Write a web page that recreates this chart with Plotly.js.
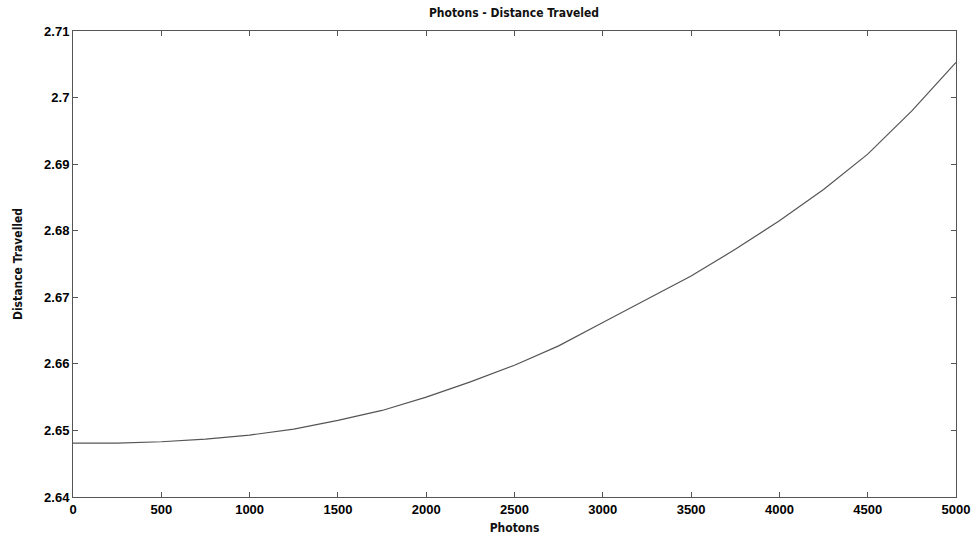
<!DOCTYPE html>
<html>
<head>
<meta charset="utf-8">
<script src="https://cdn.plot.ly/plotly-3.0.1.min.js"></script>
<style>html,body{margin:0;padding:0;background:#fff;}#chart{width:979px;height:542px;}</style>
</head>
<body>
<div id="chart"></div>
<script>
const photons = [0,250,500,750,1000,1250,1500,1750,2000,2250,2500,2750,3000,3250,3500,3750,4000,4250,4500,4750,5000];
const distance = [2.6481,2.6481,2.6483,2.6487,2.6493,2.6502,2.6515,2.6530,2.6550,2.6573,2.6598,2.6627,2.6662,2.6697,2.6732,2.6772,2.6815,2.6862,2.6915,2.6980,2.7053];
const xTicks = [0,500,1000,1500,2000,2500,3000,3500,4000,4500,5000];
const yTicks = [2.64,2.65,2.66,2.67,2.68,2.69,2.7,2.71];
const yTickText = ["2.64","2.65","2.66","2.67","2.68","2.69","2.7","2.71"];

const tickFont = {family:'"Liberation Sans", Arial, sans-serif', size:13, color:'#000', weight:'bold'};
const titleFont = {family:'"DejaVu Sans Condensed", "Liberation Sans Narrow", sans-serif', size:12, color:'#111', weight:'bold'};

Plotly.newPlot('chart', [{
  x: photons, y: distance, type:'scatter', mode:'lines',
  line:{color:'#555', width:1.2}
}], {
  width:979, height:542,
  margin:{l:73, r:23, t:31, b:45},
  paper_bgcolor:'#fff', plot_bgcolor:'#fff',
  showlegend:false,
  title:{text:'Photons - Distance Traveled', font:titleFont, x:0.525, xanchor:'center', y:0.977, yanchor:'middle'},
  xaxis:{range:[0,5000], tickvals:xTicks, ticktext:xTicks.map(String), ticks:'inside', ticklen:5, tickcolor:'#555',
    showline:true, linecolor:'#555', linewidth:1, mirror:'ticks', showgrid:false, zeroline:false,
    tickfont:tickFont, title:{text:'Photons', font:titleFont, standoff:8}},
  yaxis:{range:[2.64,2.71], tickvals:yTicks, ticktext:yTickText, ticks:'inside', ticklen:5, tickcolor:'#555',
    showline:true, linecolor:'#555', linewidth:1, mirror:'ticks', showgrid:false, zeroline:false,
    tickfont:tickFont, title:{text:'Distance Travelled', font:titleFont, standoff:18}}
}, {displayModeBar:false, staticPlot:true});
</script>
</body>
</html>
